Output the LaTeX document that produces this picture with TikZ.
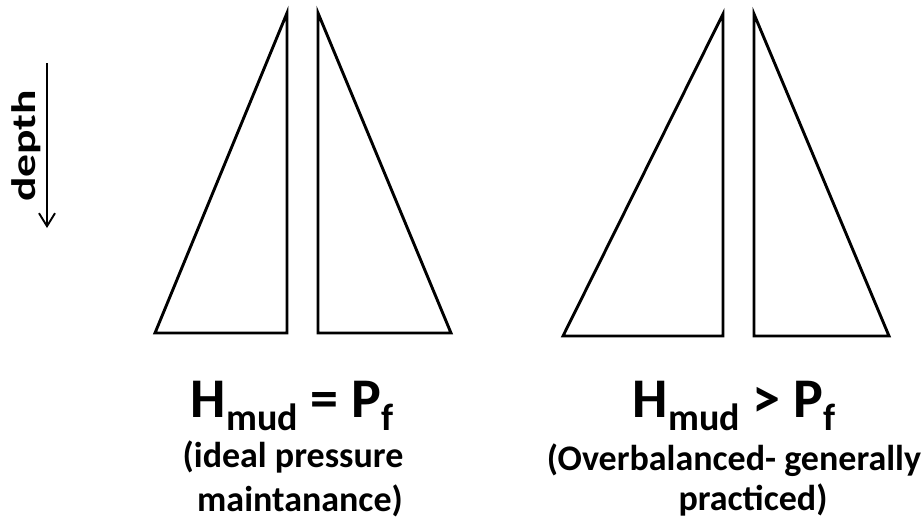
\documentclass[tikz,border=0pt]{standalone}
\usepackage{fontspec}
\setmainfont{Carlito}
\usetikzlibrary{arrows.meta}
\tikzset{
  tri/.style={draw=black, line width=2.9pt, line join=miter},
  bigeq/.style={anchor=base, inner sep=0pt, font=\bfseries\fontsize{56}{56}\selectfont},
  note/.style={anchor=base, inner sep=0pt, font=\bfseries\fontsize{36}{36}\selectfont},
  deptharrow/.style={draw=black, line width=1.9pt, -{Straight Barb[length=13pt,width=16pt,line width=1.9pt]}}
}
\newcommand{\lowsub}[1]{\raisebox{-13pt}{\fontsize{38}{38}\selectfont #1}}
\begin{document}
\begin{tikzpicture}[x=1pt,y=-1pt]
\useasboundingbox (0,0) rectangle (923,523);
% left pair
\draw[tri] (287,13) -- (155,333) -- (287,333) -- cycle;
\draw[tri] (318,13) -- (318,333) -- (451,333) -- cycle;
% right pair
\draw[tri] (723,14) -- (563,336) -- (723,336) -- cycle;
\draw[tri] (754,14) -- (754,336) -- (889,336) -- cycle;
% depth arrow
\coordinate (atop) at (47,63);
\coordinate (abot) at (47,228);
\draw[deptharrow] (atop) -- (abot);
\node[rotate=90, inner sep=0pt, font=\bfseries\fontsize{34}{34}\selectfont] (depth) at (26,146) {\scalebox{1.34}[1]{depth}};
% labels
\node[bigeq] (eq1) at (292,417) {H\lowsub{mud} = P\lowsub{f}};
\node[note] (n1a) at (293,467) {(ideal pressure};
\node[note] (n1b) at (300,511) {maintanance)};
\node[bigeq] (eq2) at (734,417) {H\lowsub{mud} > P\lowsub{f}};
\node[note] (n2a) at (734,470) {(Overbalanced- generally};
\node[note] (n2b) at (753,510) {practiced)};
\end{tikzpicture}
\end{document}
